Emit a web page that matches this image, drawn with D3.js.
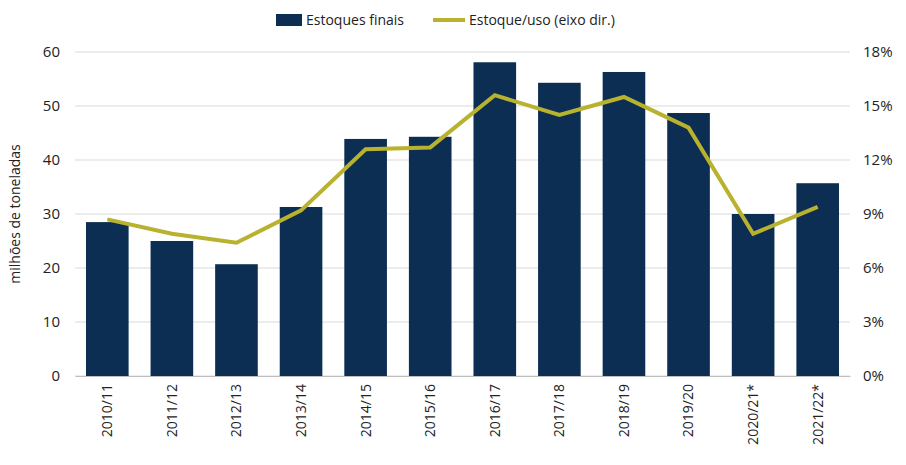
<!DOCTYPE html>
<html lang="pt">
<head>
<meta charset="UTF-8">
<script src="https://d3js.org/d3.v7.min.js"></script>
<style>
  body { margin: 0; background: #fff; }
  svg text { font-family: "Open Sans", sans-serif; fill: #222; }
</style>
</head>
<body>
<svg width="906" height="465"></svg>
<script>
  const data = [
    { safra: "2010/11", estoque: 28.5, ratio: 8.7 },
    { safra: "2011/12", estoque: 25.0, ratio: 7.9 },
    { safra: "2012/13", estoque: 20.7, ratio: 7.4 },
    { safra: "2013/14", estoque: 31.3, ratio: 9.2 },
    { safra: "2014/15", estoque: 43.9, ratio: 12.6 },
    { safra: "2015/16", estoque: 44.3, ratio: 12.7 },
    { safra: "2016/17", estoque: 58.1, ratio: 15.6 },
    { safra: "2017/18", estoque: 54.3, ratio: 14.5 },
    { safra: "2018/19", estoque: 56.3, ratio: 15.5 },
    { safra: "2019/20", estoque: 48.7, ratio: 13.8 },
    { safra: "2020/21*", estoque: 30.0, ratio: 7.9 },
    { safra: "2021/22*", estoque: 35.7, ratio: 9.4 }
  ];

  const svg = d3.select("svg");
  const pLeft = 75, pRight = 850, pTop = 52, pBottom = 376;

  const x = d3.scaleBand().domain(data.map(d => d.safra)).range([pLeft, pRight]).paddingInner(0.34).paddingOuter(0.17);
  const yL = d3.scaleLinear().domain([0, 60]).range([pBottom, pTop]);
  const yR = d3.scaleLinear().domain([0, 18]).range([pBottom, pTop]);

  // grid
  svg.append("g").selectAll("line").data(yL.ticks(6)).join("line")
    .attr("x1", pLeft).attr("x2", pRight)
    .attr("y1", d => yL(d)).attr("y2", d => yL(d))
    .attr("stroke", "#d9d9d9");

  svg.append("g").selectAll("rect").data(data).join("rect")
    .attr("x", d => x(d.safra)).attr("width", x.bandwidth())
    .attr("y", d => yL(d.estoque)).attr("height", d => pBottom - yL(d.estoque))
    .attr("fill", "#0b2e52");

  const line = d3.line().x(d => x(d.safra) + x.bandwidth() / 2).y(d => yR(d.ratio));
  svg.append("path").datum(data).attr("d", line)
    .attr("fill", "none").attr("stroke", "#b8b22e").attr("stroke-width", 4);

  // axes
  const gl = svg.append("g").attr("transform", `translate(${pLeft - 12},0)`)
    .call(d3.axisLeft(yL).ticks(6).tickSize(0));
  gl.select(".domain").remove();
  gl.selectAll("text").style("font-size", "15px");

  const gr = svg.append("g").attr("transform", `translate(${pRight + 10},0)`)
    .call(d3.axisRight(yR).tickValues([0, 3, 6, 9, 12, 15, 18]).tickSize(0).tickFormat(d => d + "%"));
  gr.select(".domain").remove();
  gr.selectAll("text").style("font-size", "15px");

  const gx = svg.append("g").attr("transform", `translate(0,${pBottom})`)
    .call(d3.axisBottom(x).tickSize(0));
  gx.select(".domain").attr("stroke", "#bfbfbf");
  gx.selectAll("text").style("font-size", "14px")
    .attr("transform", "rotate(-90)").attr("text-anchor", "end")
    .attr("x", -8).attr("y", 0).attr("dy", "0.35em");

  svg.append("text").attr("transform", `translate(20,${(pTop + pBottom) / 2}) rotate(-90)`)
    .attr("text-anchor", "middle").style("font-size", "14px").text("milhões de toneladas");

  // legend
  const lg = svg.append("g");
  lg.append("rect").attr("x", 276).attr("y", 14).attr("width", 26).attr("height", 12).attr("fill", "#0b2e52");
  lg.append("text").attr("x", 306).attr("y", 25).style("font-size", "14px").text("Estoques finais");
  lg.append("line").attr("x1", 433).attr("x2", 465).attr("y1", 20).attr("y2", 20)
    .attr("stroke", "#b8b22e").attr("stroke-width", 4);
  lg.append("text").attr("x", 469).attr("y", 25).style("font-size", "14px").text("Estoque/uso (eixo dir.)");
</script>
</body>
</html>
